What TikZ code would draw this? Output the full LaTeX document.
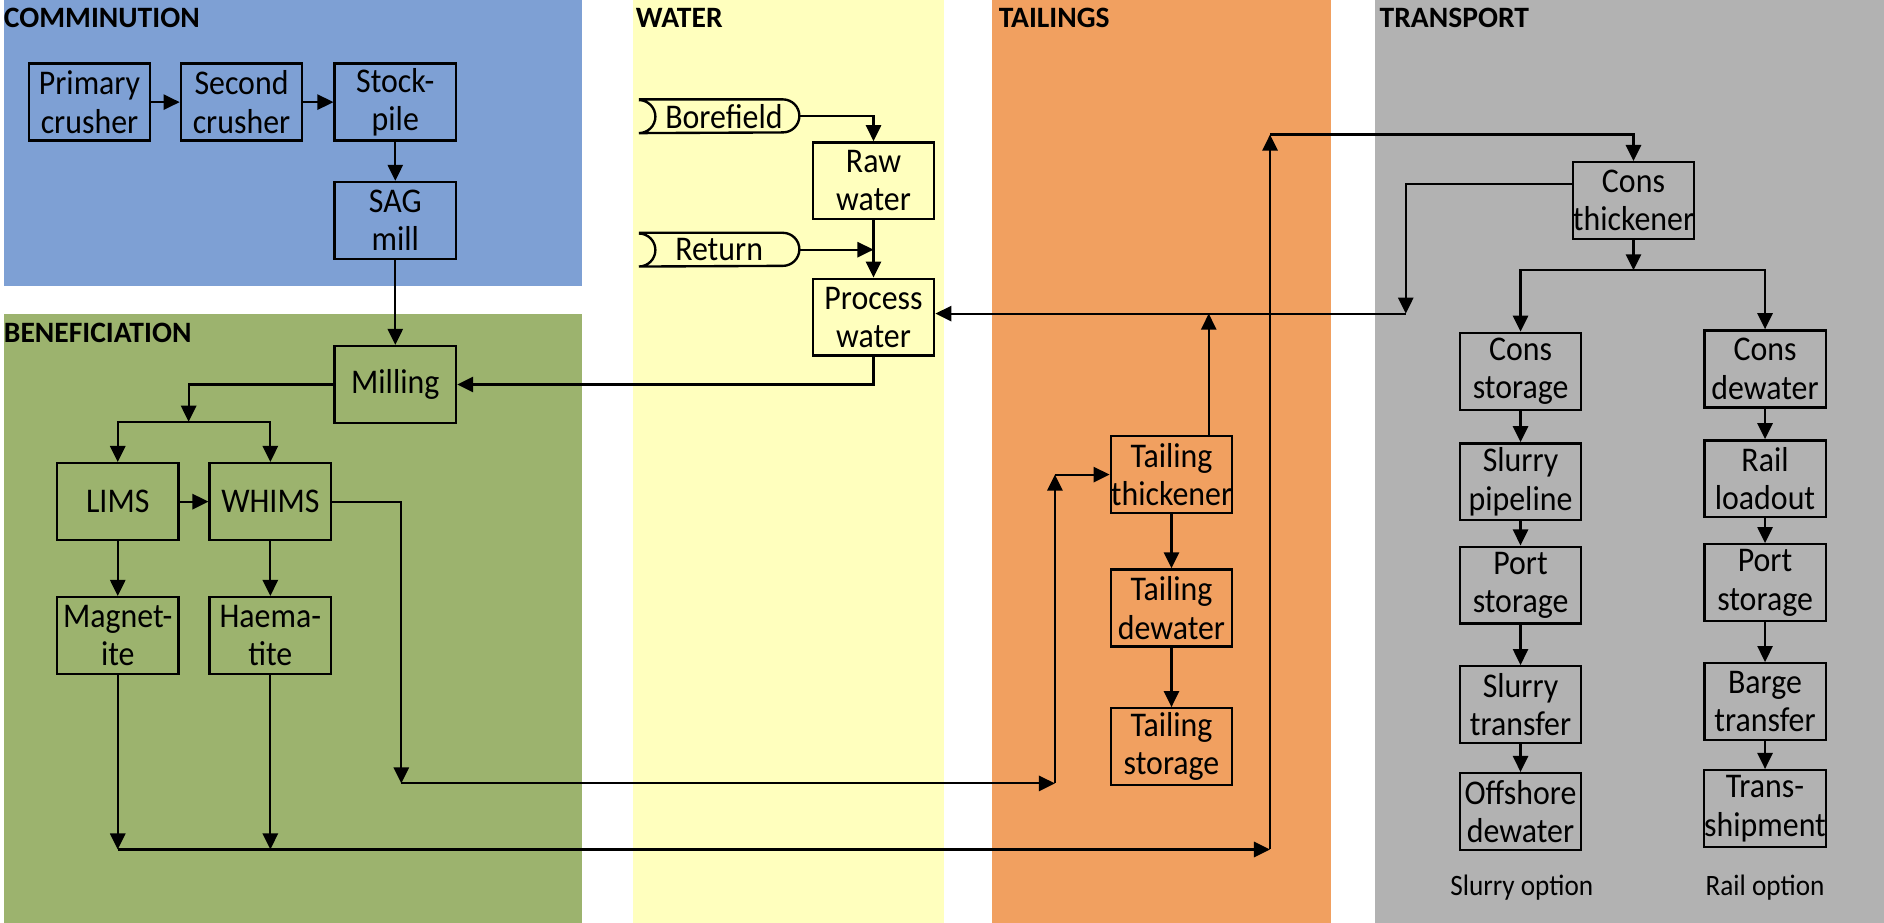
\documentclass[tikz,border=0pt]{standalone}
\usepackage{fontspec}
\setmainfont{Carlito}
\newfontfamily\boxfont{Carlito}[FakeStretch=0.92]
\usetikzlibrary{arrows.meta,calc}
\definecolor{bluebg}{RGB}{126,160,212}
\definecolor{greenbg}{RGB}{156,179,110}
\definecolor{yellowbg}{RGB}{255,255,190}
\definecolor{orangebg}{RGB}{241,160,96}
\definecolor{graybg}{RGB}{178,178,178}
\begin{document}
\begin{tikzpicture}[x=0.025cm,y=-0.025cm,
  box/.style={draw,line width=1.4pt,minimum width=2.525cm,minimum height=1.6cm,inner sep=0pt,align=center,font=\boxfont\fontsize{20.5}{22.7}\selectfont},
  src/.style={minimum width=3.325cm,minimum height=0.6875cm,inner sep=0pt,font=\boxfont\fontsize{20.5}{22.7}\selectfont},
  srcline/.style={draw,line width=1.4pt},
  hdr/.style={anchor=base west,inner sep=0pt,font=\fontsize{17.5}{20}\selectfont\bfseries},
  opt/.style={inner sep=0pt,font=\boxfont\fontsize{17.5}{20}\selectfont},
  arr/.style={line width=1.3pt,-{Triangle[length=9.5pt,width=9pt]}}]

\fill[white] (0,0) rectangle (1568,768);
\useasboundingbox (0,0) rectangle (1568,768);

% backgrounds
\fill[bluebg] (3,0) rectangle (484,238);
\fill[greenbg] (3,261) rectangle (484,768);
\fill[yellowbg] (527,0) rectangle (786,768);
\fill[orangebg] (826,0) rectangle (1108,768);
\fill[graybg] (1144,0) rectangle (1568,768);

% headers
\node[hdr] (hcom) at (3,22.5) {COMMINUTION};
\node[hdr] (hwat) at (529,22.5) {WATER};
\node[hdr] (htai) at (831,22.5) {TAILINGS};
\node[hdr] (htra) at (1148,22.5) {TRANSPORT};
\node[hdr] (hben) at (3,285) {BENEFICIATION};

% comminution
\node[box] (prim) at (74.5,85) {Primary\\crusher};
\node[box] (sec) at (201,85) {Second\\crusher};
\node[box] (stock) at (329,85) {Stock-\\pile};
\node[box] (sag) at (329,183.5) {SAG\\mill};

% beneficiation
\node[box] (mill) at (329,320) {Milling};
\node[box] (lims) at (98,417.5) {LIMS};
\node[box] (whims) at (225,417.5) {WHIMS};
\node[box] (mag) at (98,529) {Magnet-\\ite};
\node[box] (haem) at (225,529) {Haema-\\tite};

% water
\node[src] (bore) at (598.5,96.75) {\hspace*{0.2cm}Borefield};
\node[src] (ret) at (598.5,207.8) {Return};
\foreach \n in {bore,ret}{
  \draw[srcline] (\n.north west) -- ([xshift=-0.34375cm]\n.north east)
     arc[start angle=-90,end angle=90,radius=13.75] -- (\n.south west)
     arc[start angle=90,end angle=-90,radius=13.75];
}
\node[box] (raw) at (727,150.5) {Raw\\water};
\node[box] (pw) at (727,264) {Process\\water};

% tailings
\node[box] (tt) at (975,395) {Tailing\\thickener};
\node[box] (td) at (975,506) {Tailing\\dewater};
\node[box] (ts) at (975,621.5) {Tailing\\storage};

% transport
\node[box] (ct) at (1359.5,167) {Cons\\thickener};
\node[box] (cs) at (1265.5,309) {Cons\\storage};
\node[box] (sp) at (1265.5,401) {Slurry\\pipeline};
\node[box] (ps1) at (1265.5,487) {Port\\storage};
\node[box] (st) at (1265.5,586.5) {Slurry\\transfer};
\node[box] (od) at (1265.5,675.5) {Offshore\\dewater};
\node[box] (cd) at (1469,307) {Cons\\dewater};
\node[box] (rl) at (1469,398.5) {Rail\\loadout};
\node[box] (ps2) at (1469,485) {Port\\storage};
\node[box] (bt) at (1469,584) {Barge\\transfer};
\node[box] (tsh) at (1469,673) {Trans-\\shipment};
\node[opt] (slopt) at (1266.5,739) {Slurry option};
\node[opt] (rlopt) at (1469,739) {Rail option};

% connectors: comminution
\draw[arr] (prim) -- (sec);
\draw[arr] (sec) -- (stock);
\draw[arr] (stock) -- (sag);
\draw[arr] (sag) -- (mill);

% beneficiation
\coordinate (j1) at (157,351);
\draw[arr] (mill.west) -| (j1);
\draw[arr] (j1) -| (lims.north);
\draw[arr] (j1) -| (whims.north);
\draw[arr] (lims) -- (whims);
\draw[arr] (lims) -- (mag);
\draw[arr] (whims) -- (haem);
\coordinate (b1) at (98,707);
\coordinate (b2) at (1057,707);
\coordinate (b3) at (1057,112);
\draw[arr] (mag) -- (b1);
\draw[arr] (haem) -- (haem |- b1);
\draw[arr] (b1) -- (b2);
\draw[arr] (b2) -- (b3);
\draw[arr] (b3) -| (ct.north);
\coordinate (w1) at (334,652);
\coordinate (w2) at (878,652);
\coordinate (w3) at (878,395);
\draw[arr] (whims.east) -| (w1);
\draw[arr] (w1) -- (w2);
\draw[arr] (w2) -- (w3);
\draw[arr] (w3) -- (tt);

% tailings
\draw[arr] (tt) -- (td);
\draw[arr] (td) -- (ts);
\coordinate (t1) at (1006,261);
\draw[arr] (tt.north -| t1) -- (t1);

% water
\draw[arr] (bore.east) -| (raw.north);
\draw[arr] (raw) -- (pw);
\draw[arr] (ret.east) -- (ret.east -| raw.south);
\draw[arr] (pw.south) |- (mill.east);

% transport
\coordinate (c0) at (1170,153);
\coordinate (c1) at (1170,261);
\draw[arr] (ct.west |- c0) -| (c1);
\draw[arr] (c1) -- (c1 -| pw.east);
\coordinate (k1) at (1359.5,225);
\draw[arr] (ct) -- (k1);
\draw[arr] (k1) -| (cs.north);
\draw[arr] (k1) -| (cd.north);
\draw[arr] (cs) -- (sp);
\draw[arr] (sp) -- (ps1);
\draw[arr] (ps1) -- (st);
\draw[arr] (st) -- (od);
\draw[arr] (cd) -- (rl);
\draw[arr] (rl) -- (ps2);
\draw[arr] (ps2) -- (bt);
\draw[arr] (bt) -- (tsh);
\end{tikzpicture}
\end{document}
